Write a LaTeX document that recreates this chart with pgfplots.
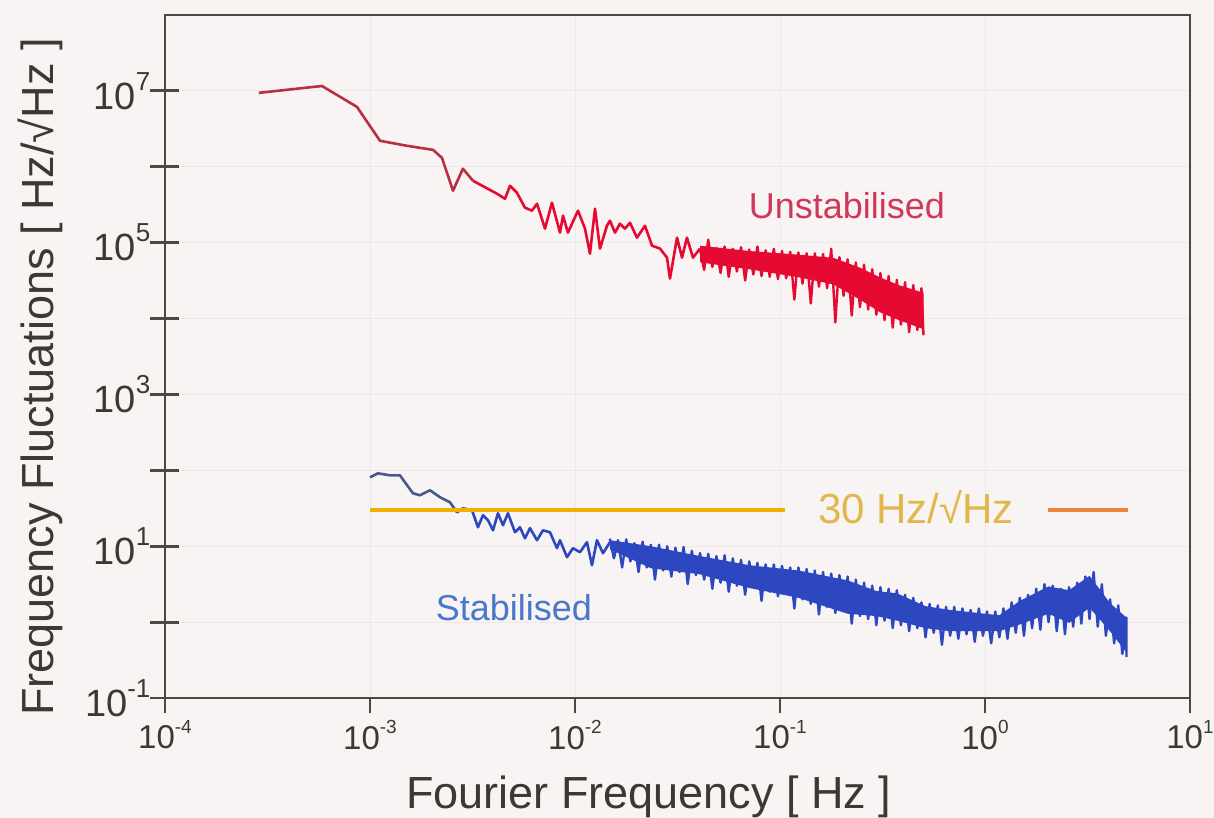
\documentclass[border=0pt]{standalone}
\usepackage{fontspec}
\setmainfont{Liberation Sans}
\usepackage{pgfplots}
\pgfplotsset{compat=1.18}
\definecolor{bgcol}{HTML}{F8F4F4}
\definecolor{axiscol}{HTML}{4A4A40}
\definecolor{textcol}{HTML}{3A3A30}
\definecolor{gridcol}{HTML}{EEE8E8}
\definecolor{redline}{HTML}{E60A32}
\definecolor{redsparse}{HTML}{B8303F}
\definecolor{blueline}{HTML}{2C47C0}
\definecolor{bluesparse}{HTML}{485A8C}
\definecolor{orangeline}{HTML}{F0B000}
\definecolor{orangeshort}{HTML}{E8843C}
\definecolor{goldtext}{HTML}{E2B64A}
\definecolor{unstabcol}{HTML}{D0385A}
\definecolor{stabcol}{HTML}{4A78C8}
\newcommand{\ysup}[1]{10\raisebox{0.5em}{\fontsize{13}{14}\selectfont #1}}
\newcommand{\xsup}[1]{10\raisebox{0.48em}{\fontsize{9.5}{10}\selectfont #1}}
\begin{document}
\begin{tikzpicture}
\path[use as bounding box, fill=bgcol] (-82.5pt,-60pt) rectangle (524.5pt,349pt);
\begin{axis}[
  xmode=log, ymode=log,
  scale only axis, width=512.5pt, height=341.5pt,
  xmin=1e-4, xmax=10, ymin=1e-1, ymax=1e8,
  clip mode=individual,
  axis line style={axiscol, line width=1.4pt},
  xtick={1e-4,1e-3,1e-2,1e-1,1,10},
  xticklabels={\xsup{-4},\xsup{-3},\xsup{-2},\xsup{-1},\xsup{0},\xsup{1}},
  ytick={1e-1,1,1e1,1e2,1e3,1e4,1e5,1e6,1e7},
  yticklabels={\ysup{-1},,\ysup{1},,\ysup{3},,\ysup{5},,\ysup{7}},
  xminorticks=false, yminorticks=false,
  xtick pos=bottom, ytick pos=left,
  xtick align=outside, ytick align=center,
  major tick length=7.5pt,
  xtick style={axiscol, line width=1.4pt},
  ytick style={draw=none},
  xticklabel style={font=\fontsize{16.5}{18}\selectfont, text=textcol},
  yticklabel style={font=\fontsize{19}{21}\selectfont, text=textcol, anchor=east},
  grid=major, major grid style={gridcol, line width=0.4pt},
  xlabel={Fourier Frequency [ Hz ]},
  xlabel style={font=\fontsize{22.5}{24}\selectfont, text=textcol, at={(axis description cs:0.472,-0.1625)}, anchor=base},
  ylabel={Frequency Fluctuations [ Hz/√Hz ]},
  ylabel style={font=\fontsize{22.5}{24}\selectfont, text=textcol, at={(axis description cs:-0.122,0.47)}, anchor=center},
  every axis plot/.append style={line join=round},
]
% ---------- Unstabilised (red) ----------
\addplot[redsparse, line width=1.3pt] coordinates {
(2.87e-4,9.42e6) (5.83e-4,1.16e7) (8.64e-4,6.15e6) (1.119e-3,2.20e6) (1.515e-3,1.89e6)
(2.03e-3,1.67e6) (2.245e-3,1.31e6) (2.54e-3,4.83e5) (2.84e-3,9.42e5) (3.18e-3,6.54e5)
};
\addplot[redline, line width=1.3pt] coordinates {
(3.18e-3,6.54e5) (4.16e-3,4.42e5) (4.555e-3,3.79e5) (4.82e-3,5.62e5) (5.21e-3,4.55e5)
(5.70e-3,2.89e5) (6.17e-3,2.64e5) (6.53e-3,3.26e5) (7.14e-3,1.53e5) (7.72e-3,3.36e5)
(8.45e-3,1.355e5) (8.74e-3,2.27e5) (9.24e-3,1.355e5) (1.034e-2,2.64e5) (1.119e-2,1.53e5)
(1.183e-2,7.16e4) (1.252e-2,2.80e5) (1.324e-2,8.34e4) (1.432e-2,1.67e5) (1.481e-2,1.95e5)
(1.567e-2,1.355e5) (1.658e-2,1.78e5) (1.753e-2,1.53e5) (1.855e-2,1.83e5) (2.006e-2,1.164e5)
(2.195e-2,1.67e5) (2.375e-2,9.14e4) (2.60e-2,8.34e4) (2.81e-2,6.35e4) (2.906e-2,3.36e4)
(3.146e-2,1.164e5) (3.327e-2,6.35e4) (3.517e-2,1.164e5) (3.763e-2,6.35e4) (4.07e-2,8.34e4)
};
\addplot[fill=redline, draw=none] coordinates {
(4.074e-2,9.12e4) (7.079e-2,7.762e4) (1.259e-1,6.918e4) (1.820e-1,6.310e4) (2.455e-1,4.677e4)
(3.090e-1,3.467e4) (3.802e-1,2.754e4) (5.012e-1,2.188e4)
(5.012e-1,7.244e3) (3.802e-1,9.55e3) (3.090e-1,1.202e4) (2.455e-1,1.778e4) (1.820e-1,2.818e4)
(1.259e-1,3.467e4) (7.079e-2,4.467e4) (4.074e-2,5.495e4)
} -- cycle;
\addplot[redline, line width=1.2pt] coordinates {
(4.07e-2,8.34e4) (4.266e-2,4.365e4) (4.467e-2,1.096e5) (4.677e-2,4.786e4) (4.898e-2,8.511e4)
(5.129e-2,3.981e4) (5.370e-2,8.913e4) (5.623e-2,3.548e4) (5.888e-2,8.318e4) (6.166e-2,4.169e4)
(6.457e-2,8.710e4) (6.761e-2,3.162e4) (7.079e-2,8.128e4) (7.413e-2,3.802e4) (7.762e-2,8.913e4)
(8.128e-2,3.631e4) (8.511e-2,7.943e4) (8.913e-2,3.548e4) (9.333e-2,8.318e4) (9.772e-2,3.311e4)
(1.023e-1,7.762e4) (1.072e-1,3.388e4) (1.122e-1,7.586e4) (1.175e-1,1.778e4) (1.230e-1,7.413e4)
(1.288e-1,2.884e4) (1.349e-1,7.244e4) (1.413e-1,1.585e4) (1.479e-1,7.244e4) (1.549e-1,2.630e4)
(1.622e-1,7.079e4) (1.698e-1,2.512e4) (1.778e-1,8.318e4) (1.862e-1,8.913e3) (1.950e-1,6.457e4)
(2.042e-1,1.995e4) (2.138e-1,6.026e4) (2.239e-1,1.096e4) (2.344e-1,5.495e4) (2.455e-1,1.413e4)
(2.570e-1,5.129e4) (2.692e-1,1.318e4) (2.818e-1,4.467e4) (2.951e-1,1.122e4) (3.090e-1,3.981e4)
(3.236e-1,9.550e3) (3.388e-1,3.631e4) (3.548e-1,7.586e3) (3.715e-1,3.236e4) (3.890e-1,8.318e3)
(4.074e-1,3.020e4) (4.266e-1,6.607e3) (4.467e-1,2.754e4) (4.677e-1,7.079e3) (4.898e-1,2.512e4)
(5.012e-1,6.026e3)
};
% ---------- Stabilised (blue) ----------
\addplot[bluesparse, line width=1.3pt] coordinates {
(1.0e-3,80.9) (1.094e-3,91.3) (1.252e-3,85.9) (1.400e-3,85.9) (1.621e-3,49.8) (1.753e-3,46.9)
(1.963e-3,54.6) (2.195e-3,44.2) (2.456e-3,37.9) (2.657e-3,28.0) (2.842e-3,31.6) (3.145e-3,29.8)
};
\addplot[blueline, line width=1.3pt] coordinates {
(3.145e-3,29.8) (3.364e-3,17.8) (3.557e-3,25.6) (3.763e-3,22.0) (3.981e-3,16.2) (4.210e-3,27.2)
(4.454e-3,18.9) (4.710e-3,27.2) (5.096e-3,15.3) (5.390e-3,17.8) (5.702e-3,12.7) (6.032e-3,17.3)
(6.526e-3,12.0) (6.98e-3,16.2) (7.55e-3,15.3) (8.17e-3,9.42) (8.45e-3,12.0) (9.14e-3,7.17)
(9.78e-3,9.42) (1.058e-2,8.34) (1.144e-2,11.3) (1.210e-2,5.62) (1.280e-2,12.0) (1.370e-2,8.09)
(1.481e-2,11.3)
};
\addplot[fill=blueline, draw=none] coordinates {
(1.479e-2,12.02) (2.344e-2,10.0) (4.074e-2,7.413) (7.079e-2,5.623) (1.230e-1,4.786) (2.138e-1,3.548)
(2.951e-1,2.570) (3.715e-1,2.399) (5.129e-1,1.622) (6.761e-1,1.445) (1.175,1.230) (1.479,1.905)
(2.042,2.951) (2.570,2.630) (3.236,4.074) (4.074,1.778) (4.898,1.148)
(4.898,0.398) (4.074,0.759) (3.236,1.549) (2.570,0.977) (2.042,1.288) (1.479,0.933) (1.175,0.759)
(6.761e-1,0.759) (5.129e-1,0.832) (3.715e-1,1.047) (2.951e-1,1.202) (2.138e-1,1.288) (1.230e-1,2.089)
(7.079e-2,2.818) (4.074e-2,4.266) (2.344e-2,5.129) (1.479e-2,9.120)
} -- cycle;
\addplot[blueline, line width=1.2pt] coordinates {
(1.479e-2,12.59) (1.549e-2,6.918) (1.622e-2,12.02) (1.698e-2,5.248) (1.778e-2,12.30) (1.862e-2,6.310)
(1.950e-2,10.96) (2.042e-2,4.571) (2.138e-2,11.48) (2.239e-2,5.248) (2.344e-2,10.47) (2.455e-2,3.631)
(2.570e-2,10.47) (2.692e-2,4.786) (2.818e-2,10.0) (2.951e-2,3.981) (3.090e-2,9.550) (3.236e-2,4.571)
(3.388e-2,9.772) (3.548e-2,3.162) (3.715e-2,8.710) (3.890e-2,4.169) (4.074e-2,8.128) (4.266e-2,3.631)
(4.467e-2,7.943) (4.677e-2,2.754) (4.898e-2,7.413) (5.129e-2,3.311) (5.370e-2,7.586) (5.623e-2,2.512)
(5.888e-2,6.918) (6.166e-2,3.020) (6.457e-2,6.607) (6.761e-2,2.291) (7.079e-2,6.310) (7.413e-2,2.884)
(7.762e-2,6.026) (8.128e-2,1.905) (8.511e-2,5.754) (8.913e-2,2.512) (9.333e-2,5.754) (9.772e-2,2.188)
(1.023e-1,5.495) (1.072e-1,2.399) (1.122e-1,5.248) (1.175e-1,1.514) (1.230e-1,5.248) (1.288e-1,1.995)
(1.349e-1,5.012) (1.413e-1,1.738) (1.479e-1,4.786) (1.549e-1,1.259) (1.622e-1,4.571) (1.698e-1,1.585)
(1.778e-1,4.365) (1.862e-1,1.318) (1.950e-1,4.169) (2.042e-1,1.445) (2.138e-1,3.981) (2.239e-1,0.955)
(2.344e-1,3.631) (2.455e-1,1.202) (2.570e-1,3.311) (2.692e-1,1.096) (2.818e-1,3.020) (2.951e-1,0.912)
(3.090e-1,2.884) (3.236e-1,1.047) (3.388e-1,2.754) (3.548e-1,0.832) (3.715e-1,2.630) (3.890e-1,0.912)
(4.074e-1,2.291) (4.266e-1,0.759) (4.467e-1,2.089) (4.677e-1,0.832) (4.898e-1,1.820) (5.129e-1,0.631)
(5.370e-1,1.738) (5.623e-1,0.724) (5.888e-1,1.660) (6.166e-1,0.501) (6.457e-1,1.585) (6.761e-1,0.661)
(7.079e-1,1.585) (7.413e-1,0.603) (7.762e-1,1.514) (8.128e-1,0.692) (8.511e-1,1.445) (8.913e-1,0.550)
(9.333e-1,1.514) (9.772e-1,0.661) (1.023,1.380) (1.072,0.525) (1.122,1.380) (1.175,0.631)
(1.230,1.514) (1.288,0.603) (1.349,1.820) (1.413,0.724) (1.479,2.089) (1.549,0.661)
(1.622,2.291) (1.698,0.832) (1.778,2.754) (1.862,0.794) (1.950,3.162) (2.042,1.000)
(2.138,3.020) (2.239,0.759) (2.344,2.754) (2.455,0.692) (2.570,2.884) (2.692,0.871)
(2.818,3.311) (2.951,0.955) (3.090,3.981) (3.236,1.096) (3.388,4.571) (3.548,0.871)
(3.715,3.162) (3.890,0.661) (4.074,1.995) (4.266,0.525) (4.467,1.660) (4.677,0.380)
(4.898,1.148) (4.898,0.347)
};
% ---------- 30 Hz/sqrt(Hz) level ----------
\addplot[orangeline, line width=2pt] coordinates {(1e-3,30) (0.1058,30)};
\addplot[orangeshort, line width=1.6pt] coordinates {(2.03,30) (4.98,30)};
% ---------- y ticks crossing the axis ----------
\pgfplotsinvokeforeach{-1,...,7}{
  \draw[axiscol, line width=1.4pt] ([xshift=-7.25pt]axis cs:1e-4,1e#1) -- ([xshift=7.25pt]axis cs:1e-4,1e#1);
}
% ---------- annotations ----------
\node[text=unstabcol, font=\fontsize{18}{20}\selectfont] at (axis cs:0.212,3.07e5) {Unstabilised};
\node[text=stabcol, font=\fontsize{18}{20}\selectfont] at (axis cs:5.04e-3,1.575) {Stabilised};
\node[text=goldtext, font=\fontsize{21}{23}\selectfont] at (axis cs:0.4605,32.6) {30 Hz/√Hz};
\end{axis}
\end{tikzpicture}
\end{document}
